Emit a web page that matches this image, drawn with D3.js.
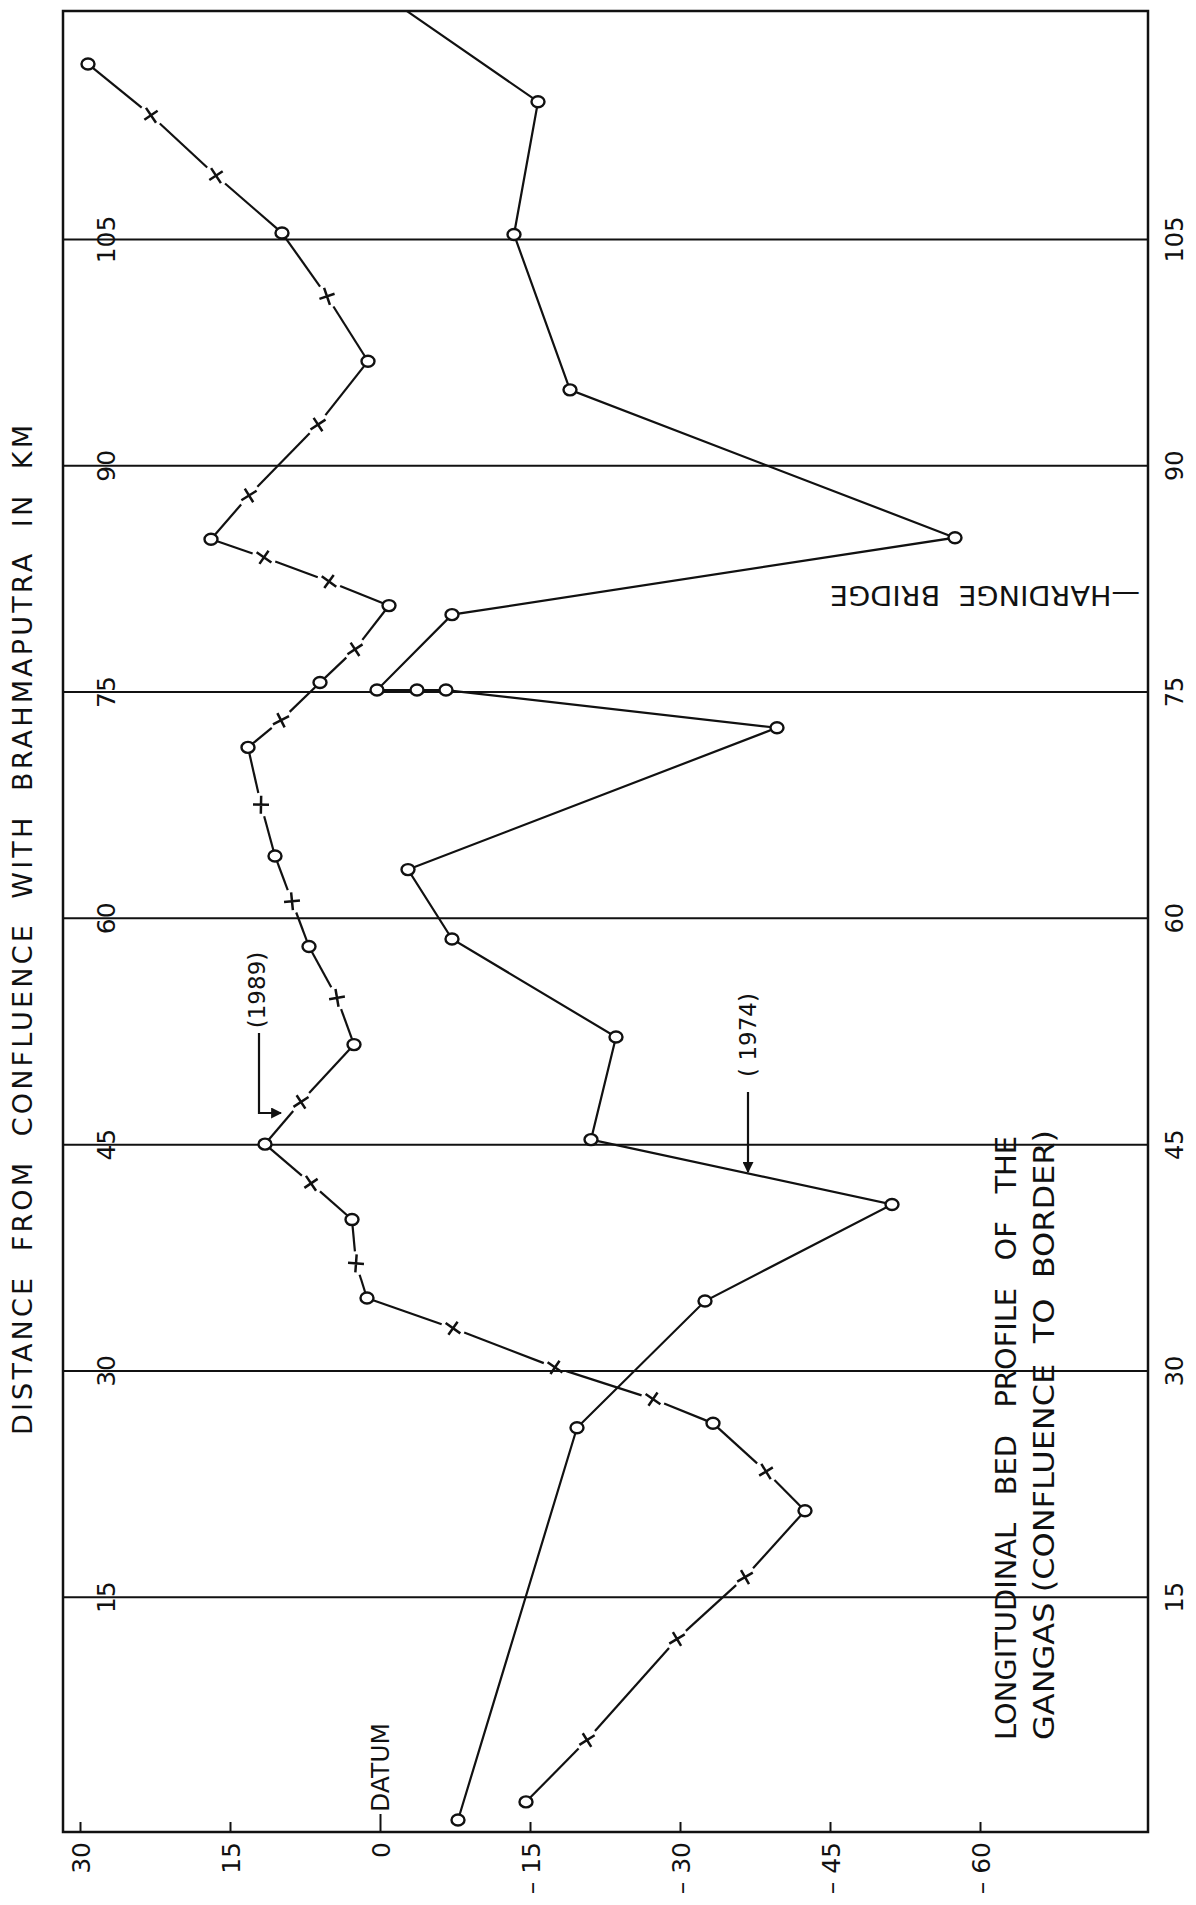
<!DOCTYPE html>
<html>
<head>
<meta charset="utf-8">
<script src="https://cdnjs.cloudflare.com/ajax/libs/d3/7.8.5/d3.min.js"></script>
<style>
html, body { margin: 0; padding: 0; background: #fff; }
svg { display: block; }
text { font-family: "DejaVu Sans", "Liberation Sans", sans-serif; fill: #111; white-space: pre; }
</style>
</head>
<body>
<script>
// distance from confluence (km) and bed level, 1989 survey
var dist1989 = [1.4, 5.5, 12.2, 16.3, 20.7, 23.3, 26.5, 28.1, 30.2, 32.8, 34.8, 37.1, 40.0, 42.4, 45.0, 47.8, 51.6, 54.7, 58.1, 61.1,
                64.1, 67.5, 71.3, 73.1, 75.6, 77.8, 80.7, 82.3, 83.9, 85.1, 88.0, 92.7, 96.9, 101.2, 105.4, 109.2, 113.2, 116.6];
var elev1989 = [-14.6, -20.7, -29.7, -36.5, -42.5, -38.6, -33.3, -27.3, -17.5, -7.3, 1.3, 2.4, 2.8, 6.9, 11.5, 7.9, 2.6, 4.3, 7.1, 8.8,
                10.5, 11.9, 13.2, 9.9, 6.0, 2.5, -0.9, 5.1, 11.6, 16.9, 13.1, 6.2, 1.2, 5.3, 9.8, 16.4, 22.9, 29.2];
var mark1989 = ["o","x","x","x","o","x","o","x","x","x","o","x","o","x","o","x","o","x","o","x",
                "o","x","o","x","o","x","o","x","x","o","x","x","o","x","o","x","x","o"];

// 1974 survey (last point is where the line leaves the frame)
var dist1974 = [0.2, 26.2, 34.6, 41.0, 45.3, 52.1, 58.6, 63.2, 72.6, 75.1, 75.1, 75.1, 80.1, 85.2, 95.0, 105.3, 114.1, 120.1];
var elev1974 = [-7.8, -19.7, -32.5, -51.2, -21.1, -23.6, -7.2, -2.8, -39.7, -6.6, -3.7, 0.3, -7.2, -57.5, -19.0, -13.4, -15.8, -2.7];
var mark1974 = ["o","o","o","o","o","o","o","o","o","o","o","o","o","o","o","o","o",""];

var distTicks = [15, 30, 45, 60, 75, 90, 105];
var elevTicks = [30, 15, 0, -15, -30, -45, -60];
var elevLabels = ["30", "15", "0", "\u2013 15", "\u2013 30", "\u2013 45", "\u2013 60"];

var W = 1196, H = 1905;
var frame = { left: 63, right: 1148, top: 11, bottom: 1832 };

var svg = d3.select("body").append("svg").attr("width", W).attr("height", H);

var x = d3.scaleLinear().domain([30, -60]).range([80, 980]);
var y = d3.scaleLinear().domain([0, 105]).range([1823, 239]);

// horizontal km lines with labels just inside the left edge
var grid = svg.append("g")
    .attr("transform", "translate(" + frame.left + ",0)")
    .call(d3.axisRight(y).tickValues(distTicks).tickSize(frame.right - frame.left));
grid.select(".domain").remove();
grid.selectAll(".tick line").attr("stroke", "#111").attr("stroke-width", 2);
grid.selectAll(".tick text")
    .attr("x", 0).attr("dy", "0.36em")
    .attr("transform", "translate(43,0) rotate(-90)")
    .attr("text-anchor", "middle").attr("font-size", 25);

// same labels outside on the right
var right = svg.append("g")
    .attr("transform", "translate(" + frame.right + ",0)")
    .call(d3.axisRight(y).tickValues(distTicks).tickSize(0));
right.select(".domain").remove();
right.selectAll(".tick text")
    .attr("x", 0).attr("dy", "0.36em")
    .attr("transform", "translate(26,0) rotate(-90)")
    .attr("text-anchor", "middle").attr("font-size", 24);

// bed level axis along the bottom
var bottom = svg.append("g")
    .attr("transform", "translate(0," + frame.bottom + ")")
    .call(d3.axisBottom(x).tickValues(elevTicks).tickSize(-10)
        .tickFormat(function(d) { return elevLabels[elevTicks.indexOf(d)]; }));
bottom.select(".domain").remove();
bottom.selectAll(".tick line").attr("stroke", "#111").attr("stroke-width", 2);
bottom.selectAll(".tick").filter(function(d) { return d === 0; }).select("line").attr("y2", -18);
bottom.selectAll(".tick text")
    .attr("x", -10).attr("y", 0).attr("dy", "0.36em")
    .attr("transform", "rotate(-90)")
    .attr("text-anchor", "end").attr("font-size", 25);

// frame
svg.append("rect")
    .attr("x", frame.left).attr("y", frame.top)
    .attr("width", frame.right - frame.left).attr("height", frame.bottom - frame.top)
    .attr("fill", "none").attr("stroke", "#111").attr("stroke-width", 2.5);

svg.append("text")
    .attr("transform", "translate(" + x(0) + "," + (frame.bottom - 20) + ") rotate(-90)")
    .attr("dy", "0.36em").attr("font-size", 25)
    .text("DATUM");

// 1974 profile: continuous line
var pts1974 = dist1974.map(function(d, i) { return { d: d, v: elev1974[i], m: mark1974[i] }; });
var line = d3.line().x(function(p) { return x(p.v); }).y(function(p) { return y(p.d); });
svg.append("path").datum(pts1974)
    .attr("d", line).attr("fill", "none").attr("stroke", "#111").attr("stroke-width", 2.2);
svg.append("g").selectAll("ellipse")
    .data(pts1974.filter(function(p) { return p.m === "o"; }))
    .enter().append("ellipse")
    .attr("cx", function(p) { return x(p.v); })
    .attr("cy", function(p) { return y(p.d); })
    .attr("rx", 6.5).attr("ry", 5.5)
    .attr("fill", "#fff").attr("stroke", "#111").attr("stroke-width", 2.4);

// 1989 profile: line broken around the crosses
var pts1989 = dist1989.map(function(d, i) { return { d: d, v: elev1989[i], m: mark1989[i] }; });
var segs = d3.pairs(pts1989).map(function(pr) {
    var x1 = x(pr[0].v), y1 = y(pr[0].d), x2 = x(pr[1].v), y2 = y(pr[1].d);
    var len = Math.hypot(x2 - x1, y2 - y1), ux = (x2 - x1) / len, uy = (y2 - y1) / len;
    var g1 = pr[0].m === "x" ? 12 : 5, g2 = pr[1].m === "x" ? 12 : 5;
    return { x1: x1 + ux * g1, y1: y1 + uy * g1, x2: x2 - ux * g2, y2: y2 - uy * g2 };
});
svg.append("g").selectAll("line").data(segs).enter().append("line")
    .attr("x1", function(s) { return s.x1; }).attr("y1", function(s) { return s.y1; })
    .attr("x2", function(s) { return s.x2; }).attr("y2", function(s) { return s.y2; })
    .attr("stroke", "#111").attr("stroke-width", 2.2);

svg.append("g").selectAll("ellipse")
    .data(pts1989.filter(function(p) { return p.m === "o"; }))
    .enter().append("ellipse")
    .attr("cx", function(p) { return x(p.v); })
    .attr("cy", function(p) { return y(p.d); })
    .attr("rx", 6.5).attr("ry", 5.5)
    .attr("fill", "#fff").attr("stroke", "#111").attr("stroke-width", 2.4);

// crosses, one arm roughly along the line
svg.append("g").selectAll("path")
    .data(pts1989.map(function(p, i) {
        var a = pts1989[Math.max(0, i - 1)], b = pts1989[Math.min(pts1989.length - 1, i + 1)];
        var ang = Math.atan2(y(b.d) - y(a.d), x(b.v) - x(a.v)) * 180 / Math.PI;
        return { p: p, ang: ang + 15 };
    }).filter(function(c) { return c.p.m === "x"; }))
    .enter().append("path")
    .attr("transform", function(c) { return "translate(" + x(c.p.v) + "," + y(c.p.d) + ") rotate(" + c.ang + ")"; })
    .attr("d", "M-9,0H9M0,-8V8")
    .attr("stroke", "#111").attr("stroke-width", 2.5).attr("fill", "none");

// annotations
svg.append("defs").append("marker")
    .attr("id", "arr").attr("viewBox", "0 0 10 10").attr("refX", 9).attr("refY", 5)
    .attr("markerWidth", 5).attr("markerHeight", 5).attr("orient", "auto")
    .append("path").attr("d", "M0,0L10,5L0,10z").attr("fill", "#111");

svg.append("text")
    .attr("transform", "translate(257,990) rotate(-90)")
    .attr("text-anchor", "middle").attr("dy", "0.36em").attr("font-size", 23)
    .text("(1989)");
svg.append("path").attr("d", "M259,1033V1113H281")
    .attr("fill", "none").attr("stroke", "#111").attr("stroke-width", 2.2).attr("marker-end", "url(#arr)");

svg.append("text")
    .attr("transform", "translate(748,1035) rotate(-90)")
    .attr("text-anchor", "middle").attr("dy", "0.36em").attr("font-size", 23)
    .text("( 1974)");
svg.append("path").attr("d", "M748,1092V1172")
    .attr("fill", "none").attr("stroke", "#111").attr("stroke-width", 2.2).attr("marker-end", "url(#arr)");

svg.append("text")
    .attr("transform", "translate(1140,585) rotate(180)")
    .attr("dy", "-0.02em").attr("font-size", 27)
    .attr("textLength", 310).attr("lengthAdjust", "spacingAndGlyphs")
    .text("\u2014HARDINGE  BRIDGE");

svg.append("text")
    .attr("transform", "translate(1006,1740) rotate(-90)")
    .attr("dy", "0.36em").attr("font-size", 28)
    .attr("textLength", 604).attr("lengthAdjust", "spacingAndGlyphs")
    .text("LONGITUDINAL   BED   PROFILE   OF   THE");
svg.append("text")
    .attr("transform", "translate(1044,1740) rotate(-90)")
    .attr("dy", "0.36em").attr("font-size", 28)
    .attr("textLength", 610).attr("lengthAdjust", "spacingAndGlyphs")
    .text("GANGAS (CONFLUENCE  TO  BORDER)");

// axis title
svg.append("text")
    .attr("transform", "translate(22,930) rotate(-90)")
    .attr("text-anchor", "middle").attr("dy", "0.36em").attr("font-size", 27)
    .attr("textLength", 1010).attr("lengthAdjust", "spacing")
    .text("DISTANCE  FROM  CONFLUENCE  WITH  BRAHMAPUTRA  IN  KM");
</script>
</body>
</html>
